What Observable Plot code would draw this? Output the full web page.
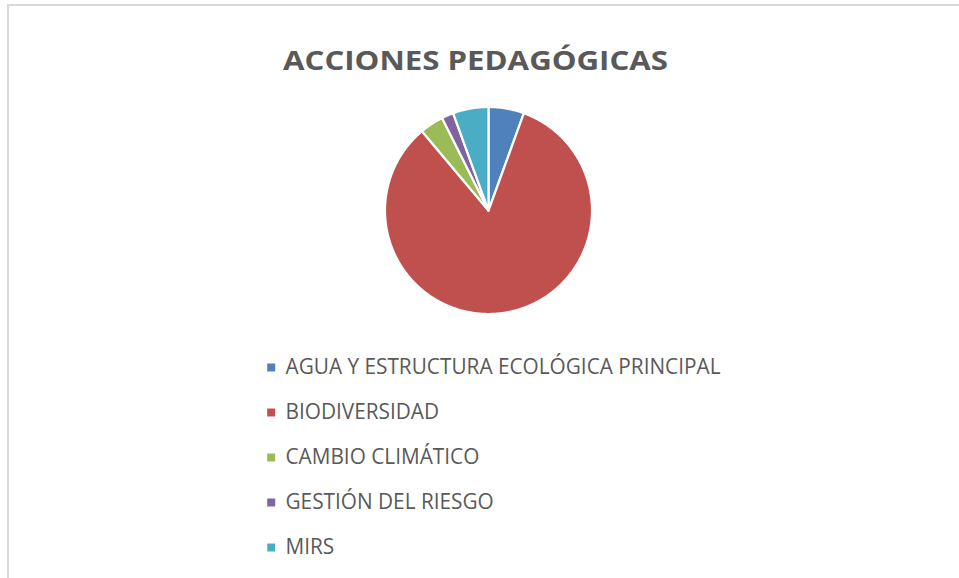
<!DOCTYPE html>
<html><head><meta charset="utf-8">
<script src="https://cdn.jsdelivr.net/npm/d3@7"></script>
<script src="https://cdn.jsdelivr.net/npm/@observablehq/plot@0.6"></script>
<style>
html,body{margin:0;padding:0;background:#fff;width:959px;height:578px;overflow:hidden;}
#frame{position:absolute;left:6.5px;top:4px;width:960px;height:590px;border-top:2px solid #d9d9d9;border-left:2px solid #d9d9d9;box-sizing:border-box}
#title{position:absolute;left:283px;top:46px;font:bold 27px "Open Sans";line-height:1;color:#595959;white-space:nowrap;transform-origin:0 0;}
#pie{position:absolute;left:368px;top:89.5px}
#legend{position:absolute;left:250px;top:340px}
</style></head><body>
<div id="frame"></div>
<div id="title"></div>
<div id="pie"></div>
<div id="legend"></div>
<script>
const titleText = "ACCIONES PEDAGÓGICAS";
const categories = ["AGUA Y ESTRUCTURA ECOLÓGICA PRINCIPAL", "BIODIVERSIDAD", "CAMBIO CLIMÁTICO", "GESTIÓN DEL RIESGO", "MIRS"];
const values = [3, 45, 2, 1, 3];
const colors = ["#4F81BD", "#C0504D", "#9BBB59", "#8064A2", "#4BACC6"];

// title
const t = document.getElementById("title");
t.textContent = titleText;
const tw = t.getBoundingClientRect().width;
t.style.transform = `scaleX(${385 / tw})`;

// pie slices from d3.pie, drawn through Plot's x/y scales
const arcs = d3.pie().sort(null).value((d, i) => values[i])(categories);
const pts = [];
arcs.forEach(a => {
  const key = categories[a.index];
  pts.push({key, x: 0, y: 0});
  const n = Math.max(2, Math.ceil((a.endAngle - a.startAngle) / (Math.PI / 360)));
  for (let i = 0; i <= n; i++) {
    const ang = a.startAngle + (a.endAngle - a.startAngle) * i / n;
    pts.push({key, x: Math.sin(ang), y: Math.cos(ang)});
  }
  pts.push({key, x: 0, y: 0});
});

const pie = Plot.plot({
  width: 240, height: 240,
  marginTop: 16.5, marginBottom: 16.5, marginLeft: 16.5, marginRight: 16.5,
  x: {domain: [-1, 1], axis: null},
  y: {domain: [-1, 1], axis: null},
  color: {domain: categories, range: colors},
  style: {overflow: "visible", background: "transparent"},
  marks: [
    Plot.line(pts, {x: "x", y: "y", z: "key", fill: "key", stroke: "white", strokeWidth: 2.2, strokeLinejoin: "round"})
  ]
});
document.getElementById("pie").appendChild(pie);

// legend
const legend = Plot.plot({
  width: 500, height: 230,
  margin: 0,
  y: {type: "point", domain: categories, range: [27, 207], padding: 0, axis: null},
  color: {domain: categories, range: colors},
  style: {overflow: "visible", background: "transparent"},
  marks: [
    Plot.dot(categories, {y: d => d, frameAnchor: "left", dx: 20.7, symbol: "square", r: 4.5, fill: d => d, stroke: null}),
    Plot.text(categories, {y: d => d, text: d => d, frameAnchor: "left", dx: 35, textAnchor: "start",
      fontSize: 21.7, fill: "#595959", fontFamily: "Open Sans"})
  ]
});
document.getElementById("legend").appendChild(legend);
const texts = legend.querySelectorAll("text");
let k = 1;
texts.forEach(el => { if (el.textContent === categories[0]) k = 435 / el.getComputedTextLength(); });
texts.forEach(el => {
  const L = el.getComputedTextLength();
  el.setAttribute("textLength", L * k);
  el.setAttribute("lengthAdjust", "spacingAndGlyphs");
});
</script>
</body></html>
